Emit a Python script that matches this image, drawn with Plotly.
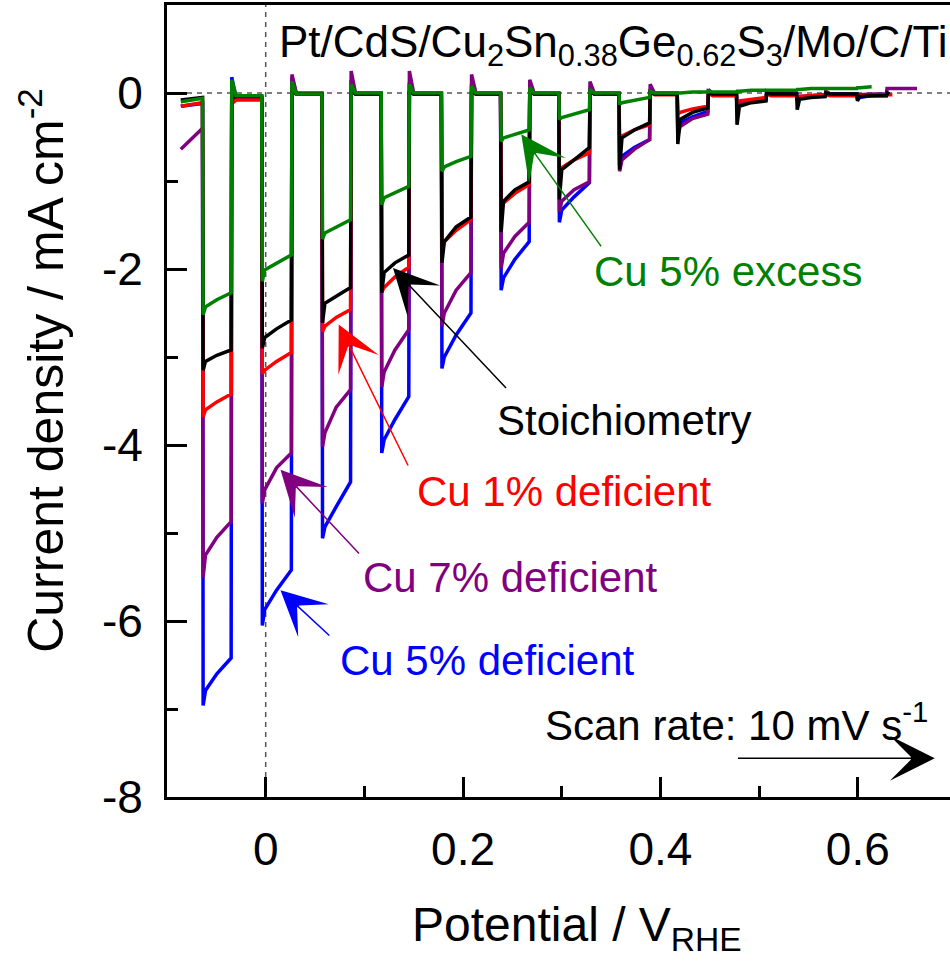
import plotly.graph_objects as go

# Chopped-light linear sweep voltammetry, 10 mV/s, light on/off edges (V vs RHE)
ON_V = [-0.064, -0.004, 0.057, 0.117, 0.178, 0.238, 0.297, 0.358, 0.417, 0.477, 0.538, 0.599]
OFF_V = [-0.035, 0.026, 0.086, 0.145, 0.208, 0.267, 0.328, 0.389, 0.448, 0.507, 0.567, 0.629]
X_START = -0.086

# Cu 5% deficient (blue)
BLUE_START, BLUE_PRE, BLUE_XEND = -0.15, -0.12, 0.632
BLUE_PEAK = [-6.96, -6.05, -5.06, -4.09, -3.13, -2.24, -1.47, -0.83, -0.44, -0.15, -0.07, -0.07]
BLUE_KNEE = [-6.79, -5.87, -4.93, -3.94, -3.00, -2.10, -1.33, -0.72, -0.34, -0.11, -0.05, -0.05]
BLUE_MID = [-6.60, -5.65, -4.70, -3.71, -2.75, -1.89, -1.18, -0.62, -0.27, -0.08, -0.03, -0.03]
BLUE_END = [-6.42, -5.42, -4.42, -3.45, -2.50, -1.69, -1.02, -0.53, -0.21, -0.06, -0.02, -0.02]
BLUE_SPIKE = [0.18, 0.18, 0.15, 0.12, 0.10, 0.08, 0.06, 0.04, 0.02, 0.01, 0.01, 0.00]
BLUE_DARK = [-0.06, -0.01, -0.01, -0.01, -0.01, -0.01, -0.01, -0.01, -0.01, -0.01, -0.01, -0.01]

# Cu 7% deficient (purple)
PURPLE_START, PURPLE_PRE, PURPLE_XEND = -0.64, -0.40, 0.660
PURPLE_PEAK = [-5.50, -4.66, -4.02, -3.34, -2.65, -1.99, -1.35, -0.89, -0.49, -0.19, -0.06, -0.03]
PURPLE_KNEE = [-5.25, -4.51, -3.86, -3.17, -2.50, -1.82, -1.23, -0.76, -0.38, -0.13, -0.04, -0.02]
PURPLE_MID = [-5.05, -4.26, -3.57, -2.92, -2.24, -1.63, -1.10, -0.64, -0.29, -0.10, -0.03, -0.01]
PURPLE_END = [-4.87, -4.09, -3.37, -2.69, -2.04, -1.47, -1.01, -0.53, -0.24, -0.08, -0.02, -0.01]
PURPLE_SPIKE = [-0.10, 0.21, 0.25, 0.25, 0.21, 0.15, 0.13, 0.10, 0.04, 0.02, 0.02, 0.05]
PURPLE_DARK = [-0.06, 0.00, 0.00, 0.00, 0.00, 0.00, 0.00, 0.00, -0.01, -0.01, -0.01, 0.05]

# Cu 1% deficient (red)
RED_START, RED_PRE, RED_XEND = -0.15, -0.11, 0.635
RED_PEAK = [-3.68, -3.19, -2.71, -2.26, -1.74, -1.29, -0.89, -0.53, -0.24, -0.11, -0.05, -0.04]
RED_KNEE = [-3.60, -3.15, -2.65, -2.21, -1.69, -1.25, -0.85, -0.49, -0.22, -0.09, -0.04, -0.03]
RED_MID = [-3.51, -3.05, -2.55, -2.09, -1.56, -1.14, -0.76, -0.42, -0.18, -0.07, -0.035, -0.03]
RED_END = [-3.42, -2.95, -2.46, -1.98, -1.44, -1.04, -0.68, -0.36, -0.15, -0.05, -0.03, -0.03]
RED_SPIKE = [-0.12, 0.03, 0.03, 0.03, 0.03, 0.02, 0.02, 0.01, 0.00, -0.01, -0.02, -0.02]
RED_DARK = [-0.08, -0.01, -0.01, -0.01, -0.01, -0.01, -0.01, -0.02, -0.03, -0.03, -0.03, -0.02]

# Stoichiometry (black)
BLACK_START, BLACK_PRE, BLACK_XEND = -0.08, -0.05, 0.632
BLACK_PEAK = [-3.15, -2.90, -2.61, -2.27, -1.93, -1.58, -1.21, -0.87, -0.58, -0.36, -0.19, -0.09]
BLACK_KNEE = [-3.05, -2.78, -2.39, -2.04, -1.69, -1.23, -0.87, -0.51, -0.30, -0.15, -0.07, -0.04]
BLACK_MID = [-2.98, -2.68, -2.31, -1.93, -1.52, -1.10, -0.76, -0.42, -0.22, -0.11, -0.05, -0.03]
BLACK_END = [-2.92, -2.58, -2.21, -1.84, -1.41, -1.01, -0.62, -0.34, -0.17, -0.09, -0.04, -0.03]
BLACK_SPIKE = [-0.05, 0.02, 0.02, 0.02, 0.02, 0.02, 0.01, 0.01, 0.00, 0.00, 0.00, 0.00]
BLACK_DARK = [-0.04, -0.01, -0.01, -0.01, -0.01, -0.01, -0.01, -0.01, -0.01, -0.01, -0.01, -0.01]

# Cu 5% excess (green)
GREEN_START, GREEN_PRE, GREEN_XEND = -0.10, -0.06, 0.614
GREEN_PEAK = [-2.52, -2.14, -1.66, -1.27, -0.89, -0.55, -0.30, -0.13, 0.00, 0.02, 0.04, 0.06]
GREEN_KNEE = [-2.43, -2.01, -1.59, -1.19, -0.84, -0.51, -0.28, -0.11, 0.00, 0.02, 0.04, 0.06]
GREEN_MID = [-2.35, -1.93, -1.52, -1.13, -0.78, -0.47, -0.24, -0.08, 0.01, 0.03, 0.05, 0.07]
GREEN_END = [-2.27, -1.84, -1.44, -1.06, -0.72, -0.42, -0.19, -0.05, 0.01, 0.03, 0.05, 0.07]
GREEN_SPIKE = [0.15, 0.13, 0.10, 0.10, 0.08, 0.06, 0.04, 0.02, 0.02, 0.03, 0.05, 0.07]
GREEN_DARK = [-0.03, -0.01, 0.00, 0.00, 0.00, 0.00, 0.00, 0.00, 0.01, 0.03, 0.05, 0.07]

EDGE = 0.0006      # width of the on/off switching edge
KNEE_DX = 0.003    # fast transient right after illumination
DECAY_DX = 0.005   # anodic overshoot relaxation after light off


def chopped_trace(start, pre, peak, knee, mid, end, spike, dark, x_end):
    xs = [X_START, ON_V[0]]
    ys = [start, pre]
    n = len(ON_V)
    for i in range(n):
        xo, xf = ON_V[i], OFF_V[i]
        xs += [xo + EDGE, xo + KNEE_DX, (xo + xf) / 2, xf, xf + EDGE, xf + DECAY_DX]
        ys += [peak[i], knee[i], mid[i], end[i], spike[i], dark[i]]
        nxt = ON_V[i + 1] if i < n - 1 else x_end
        xs.append(nxt)
        ys.append(dark[i])
    px, py = [], []
    for x, y in zip(xs, ys):
        if x <= x_end:
            px.append(x)
            py.append(y)
    return px, py


SERIES = [
    ("Cu 5% deficient", "#0000FF", BLUE_START, BLUE_PRE, BLUE_PEAK, BLUE_KNEE, BLUE_MID, BLUE_END, BLUE_SPIKE, BLUE_DARK, BLUE_XEND),
    ("Cu 7% deficient", "#800080", PURPLE_START, PURPLE_PRE, PURPLE_PEAK, PURPLE_KNEE, PURPLE_MID, PURPLE_END, PURPLE_SPIKE, PURPLE_DARK, PURPLE_XEND),
    ("Cu 1% deficient", "#FF0000", RED_START, RED_PRE, RED_PEAK, RED_KNEE, RED_MID, RED_END, RED_SPIKE, RED_DARK, RED_XEND),
    ("Stoichiometry", "#000000", BLACK_START, BLACK_PRE, BLACK_PEAK, BLACK_KNEE, BLACK_MID, BLACK_END, BLACK_SPIKE, BLACK_DARK, BLACK_XEND),
    ("Cu 5% excess", "#008000", GREEN_START, GREEN_PRE, GREEN_PEAK, GREEN_KNEE, GREEN_MID, GREEN_END, GREEN_SPIKE, GREEN_DARK, GREEN_XEND),
]

FONT = "Liberation Sans, Arial, sans-serif"

fig = go.Figure()
for name, color, s, p, pk, kn, md, en, sp, dk, xe in SERIES:
    x, y = chopped_trace(s, p, pk, kn, md, en, sp, dk, xe)
    fig.add_trace(go.Scatter(x=x, y=y, mode="lines", name=name,
                             line=dict(color=color, width=3.5), showlegend=False))

# reference lines at 0 V and 0 mA cm-2
fig.add_shape(type="line", xref="paper", yref="y", x0=0, x1=1, y0=0, y1=0,
              line=dict(color="#555555", width=1.5, dash="5px,5px"), layer="below")
fig.add_shape(type="line", xref="x", yref="paper", x0=0, x1=0, y0=0, y1=1,
              line=dict(color="#555555", width=1.5, dash="5px,5px"), layer="below")

# curve labels with pointers: (text, colour, text x, text y, tip x, tip y, tail x, tail y)
LABELS = [
    ("Cu 5% excess", "#008000", 0.468, -2.03, 0.259, -0.47, 0.341, -1.76),
    ("Stoichiometry", "#000000", 0.363, -3.72, 0.129, -1.99, 0.245, -3.37),
    ("Cu 1% deficient", "#FF0000", 0.302, -4.53, 0.074, -2.63, 0.145, -4.25),
    ("Cu 7% deficient", "#800080", 0.248, -5.50, 0.015, -4.28, 0.096, -5.25),
    ("Cu 5% deficient", "#0000FF", 0.224, -6.45, 0.015, -5.65, 0.066, -6.18),
]
for text, color, tx, ty, hx, hy, sx, sy in LABELS:
    fig.add_annotation(x=tx, y=ty, xref="x", yref="y", text=text, showarrow=False,
                       font=dict(family=FONT, size=42, color=color))
    fig.add_annotation(x=hx, y=hy, xref="x", yref="y", ax=sx, ay=sy, axref="x", ayref="y",
                       text="", showarrow=True, arrowhead=3, arrowsize=5, arrowwidth=1.5,
                       arrowcolor=color)

fig.add_annotation(x=0.477, y=-7.15, xref="x", yref="y",
                   text="Scan rate: 10 mV s<sup>-1</sup>", showarrow=False,
                   font=dict(family=FONT, size=42, color="black"))
fig.add_annotation(x=0.678, y=-7.56, xref="x", yref="y", ax=0.477, ay=-7.56, axref="x", ayref="y",
                   text="", showarrow=True, arrowhead=3, arrowsize=5, arrowwidth=1.5,
                   arrowcolor="black")

fig.add_annotation(x=0.352, y=0.55, xref="x", yref="y",
                   text="Pt/CdS/Cu<sub>2</sub>Sn<sub>0.38</sub>Ge<sub>0.62</sub>S<sub>3</sub>/Mo/C/Ti",
                   showarrow=False, font=dict(family=FONT, size=44, color="black"))

# axis titles
fig.add_annotation(x=0.524, y=-0.165, xref="paper", yref="paper", xanchor="center", yanchor="middle",
                   text="Potential / V<sub>RHE</sub>", showarrow=False,
                   font=dict(family=FONT, size=48, color="black"))
fig.add_annotation(x=-0.16, y=0.539, xref="paper", yref="paper", xanchor="center", yanchor="middle",
                   textangle=-90,
                   text="Current density / mA cm<sup>-2</sup>", showarrow=False,
                   font=dict(family=FONT, size=50, color="black"))

X_TICKS = [0, 0.2, 0.4, 0.6]
X_TICK_TEXT = ["0", "0.2", "0.4", "0.6"]
Y_TICKS = [-8, -6, -4, -2, 0]
Y_TICK_TEXT = ["-8", "-6", "-4", "-2", "0"]

fig.update_xaxes(range=[-0.1, 0.6934], tickvals=X_TICKS, ticktext=X_TICK_TEXT,
                 ticks="inside", ticklen=20, tickwidth=2.5, tickcolor="black",
                 minor=dict(ticks="inside", ticklen=11, tickwidth=2.5, dtick=0.1, tick0=0,
                            tickcolor="black"),
                 showline=True, linewidth=3, linecolor="black", mirror=True,
                 showgrid=False, zeroline=False, ticklabelstandoff=10,
                 tickfont=dict(family=FONT, size=46, color="black"))
fig.update_yaxes(range=[-8, 1], tickvals=Y_TICKS, ticktext=Y_TICK_TEXT,
                 ticks="inside", ticklen=20, tickwidth=2.5, tickcolor="black",
                 minor=dict(ticks="inside", ticklen=11, tickwidth=2.5, dtick=1, tick0=0,
                            tickcolor="black"),
                 showline=True, linewidth=3, linecolor="black",
                 showgrid=False, zeroline=False, ticklabelstandoff=12,
                 tickfont=dict(family=FONT, size=46, color="black"))

fig.update_layout(width=950, height=961, margin=dict(l=167, r=0, t=5, b=164),
                  plot_bgcolor="white", paper_bgcolor="white")

fig.write_html("out.html")
